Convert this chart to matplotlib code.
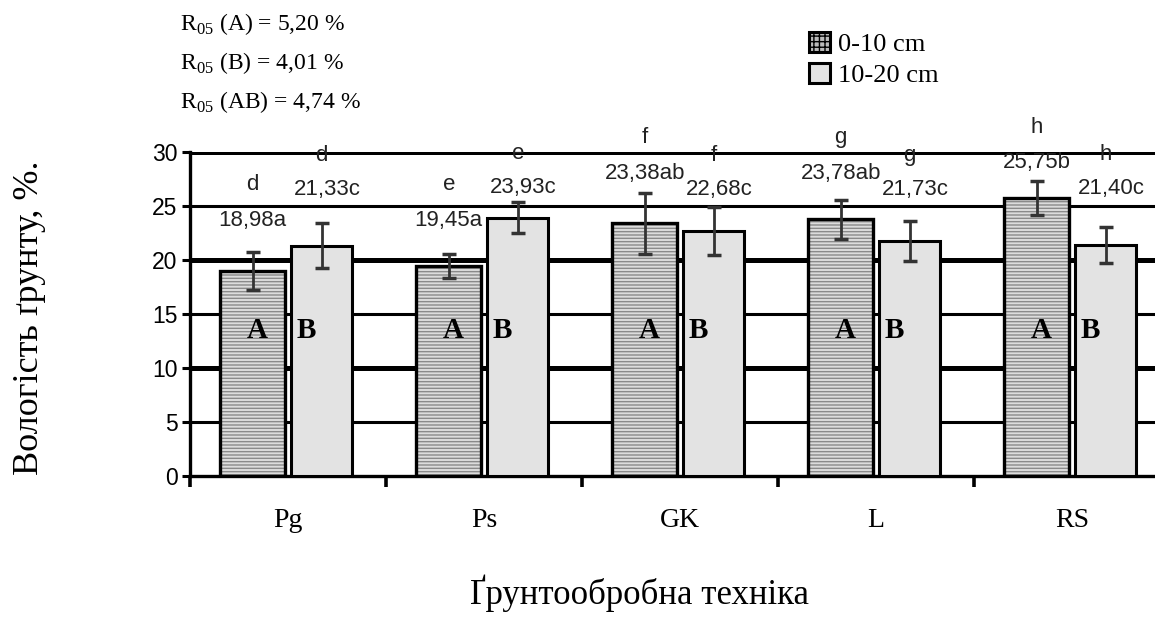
import matplotlib
matplotlib.use("Agg")
import matplotlib.pyplot as plt
import numpy as np
from matplotlib.patches import Patch

# data
categories = ["Pg", "Ps", "GK", "L", "RS"]
depth_0_10 = [18.98, 19.45, 23.38, 23.78, 25.75]
depth_10_20 = [21.33, 23.93, 22.68, 21.73, 21.40]
err_0_10 = [1.75, 1.15, 2.85, 1.8, 1.55]
err_10_20 = [2.1, 1.45, 2.25, 1.85, 1.7]
labels_0_10 = ["18,98a", "19,45a", "23,38ab", "23,78ab", "25,75b"]
labels_10_20 = ["21,33c", "23,93c", "22,68c", "21,73c", "21,40c"]
letters_0_10 = ["d", "e", "f", "g", "h"]
letters_10_20 = ["d", "e", "f", "g", "h"]
r05_lines = [("A", "5,20"), ("B", "4,01"), ("AB", "4,74")]

# layout: heights of the value labels above the bars
lab_y_0_10 = [23.7, 23.7, 28.0, 28.0, 29.0]
lab_y_10_20 = [26.5, 26.7, 26.5, 26.5, 26.6]

SERIF = "Liberation Serif"
SANS = "Liberation Sans"

plt.rcParams["mathtext.fontset"] = "custom"
plt.rcParams["mathtext.rm"] = SERIF
plt.rcParams["hatch.linewidth"] = 1.0

fig = plt.figure(figsize=(11.55, 6.17), dpi=100)
ax = fig.add_axes([190/1155, 1-476/617, 1-190/1155, (476-152)/617])

x = np.arange(len(categories))
w = 0.33
xa = x + 0.32
xb = x + 0.672

# horizontal lines
for v in [5, 10, 15, 20, 25, 30]:
    lw = 3.6 if v % 10 == 0 else 2.2
    ax.axhline(v, color="black", lw=lw, zorder=1)

ax.bar(xa, depth_0_10, w, color="#dcdcdc", edgecolor="#8a8a8a", hatch="-----",
       linewidth=0, zorder=2)
ax.bar(xa, depth_0_10, w, fill=False, edgecolor="black", linewidth=2.4, zorder=3)
ax.bar(xb, depth_10_20, w * 0.95, color="#e3e3e3", edgecolor="black",
       linewidth=2.2, zorder=3)

ax.errorbar(xa, depth_0_10, yerr=err_0_10, fmt="none", ecolor="#333333",
            elinewidth=2.0, capsize=5, capthick=2.5, zorder=4)
ax.errorbar(xb, depth_10_20, yerr=err_10_20, fmt="none", ecolor="#333333",
            elinewidth=2.0, capsize=5, capthick=2.5, zorder=4)

for i in range(len(categories)):
    ax.text(xa[i], lab_y_0_10[i], labels_0_10[i], ha="center", va="center",
            fontsize=16, family=SANS, color="#222222", clip_on=False, zorder=5)
    ax.text(xb[i] + 0.03, lab_y_10_20[i], labels_10_20[i], ha="center", va="center",
            fontsize=16, family=SANS, color="#222222", clip_on=False, zorder=5)
    ax.text(xa[i], lab_y_0_10[i] + 3.3, letters_0_10[i], ha="center", va="center",
            fontsize=16, family=SANS, color="#222222", clip_on=False, zorder=5)
    ax.text(xb[i], lab_y_10_20[i] + 3.2, letters_10_20[i], ha="center", va="center",
            fontsize=16, family=SANS, color="#222222", clip_on=False, zorder=5)
    ax.text(xa[i] + 0.025, 13.5, "A", ha="center", va="center", fontsize=21,
            family=SERIF, fontweight="bold", zorder=5)
    ax.text(i + 0.595, 13.5, "B", ha="center", va="center", fontsize=21,
            family=SERIF, fontweight="bold", zorder=5)

ax.set_xlim(0, (1155 - 190) / 196)
ax.set_ylim(0, 30)

for s in ["top", "right"]:
    ax.spines[s].set_visible(False)
ax.spines["left"].set_linewidth(2.4)
ax.spines["bottom"].set_linewidth(2.4)

ax.set_yticks([0, 5, 10, 15, 20, 25, 30])
ax.tick_params(axis="y", length=6, width=2.2, pad=3, labelsize=16.5)
for t in ax.get_yticklabels():
    t.set_family(SANS)

ax.set_xticks(x)
ax.set_xticklabels([])
ax.tick_params(axis="x", which="major", length=8, width=2.6)
ax.set_xticks(x + 0.5, minor=True)
ax.set_xticklabels(categories, minor=True, family=SERIF, fontsize=20)
ax.tick_params(axis="x", which="minor", length=0, pad=23)

fig.text(30/1155, 1-318/617, "Вологість ґрунту, %.", rotation=90, ha="center",
         va="center", fontsize=26, family=SERIF)
fig.text(640/1155, 1-593/617, "Ґрунтообробна техніка", ha="center", va="center",
         fontsize=25, family=SERIF)

for k, (name, val) in enumerate(r05_lines):
    fig.text(180/1155, 1-(24 + 39*k)/617,
             r"R$_{\mathrm{05}}$ (" + name + ") = " + val + " %",
             ha="left", va="center", fontsize=17, family=SERIF)

handles = [
    Patch(facecolor="#bbbbbb", edgecolor="black", hatch="+++", linewidth=2.2,
          label="0-10 cm"),
    Patch(facecolor="#e3e3e3", edgecolor="black", linewidth=2.2, label="10-20 cm"),
]
fig.legend(handles=handles, loc="upper left", bbox_to_anchor=(785/1155, 1-8/617),
           frameon=False, prop={"family": SERIF, "size": 19}, handlelength=0.8,
           handleheight=0.8, handletextpad=0.3, labelspacing=0.25)

fig.savefig("out.png", dpi=100)
